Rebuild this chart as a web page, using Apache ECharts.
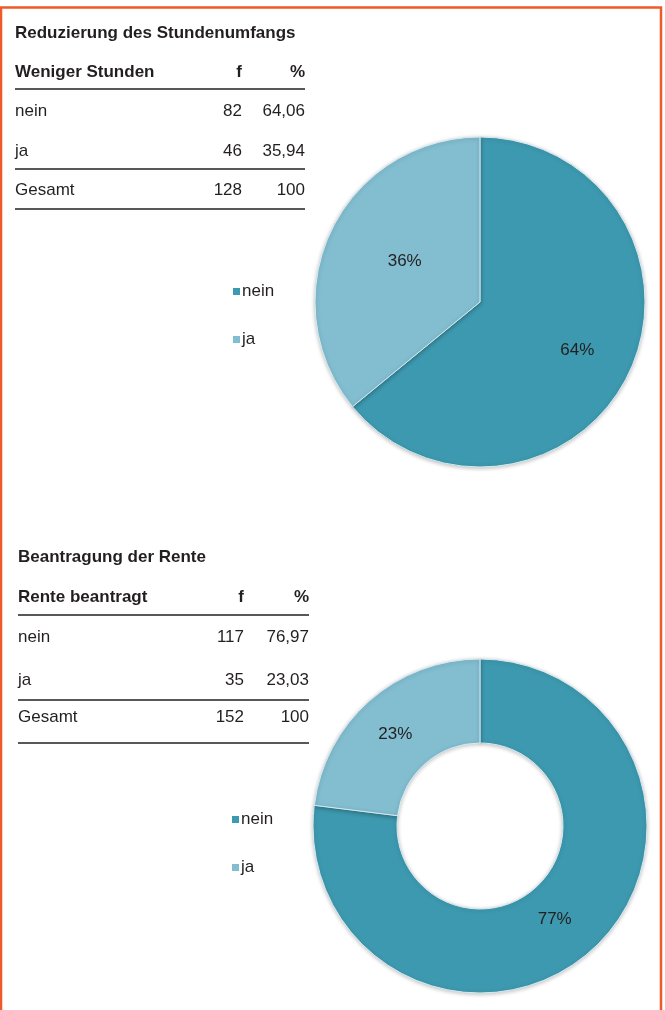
<!DOCTYPE html>
<html><head><meta charset="utf-8">
<script src="https://cdn.jsdelivr.net/npm/echarts@6/dist/echarts.min.js"></script>
<style>html,body{margin:0;padding:0;background:#fff}#c{width:665px;height:1010px}</style>
</head><body><div id="c"></div>
<script>
// ---- data ----
const categories = ['nein', 'ja'];
const title1 = 'Reduzierung des Stundenumfangs';
const header1 = ['Weniger Stunden', 'f', '%'];
const freq1 = [82, 46];
const pct1 = ['64,06', '35,94'];
const total1 = ['Gesamt', '128', '100'];

const title2 = 'Beantragung der Rente';
const header2 = ['Rente beantragt', 'f', '%'];
const freq2 = [117, 35];
const pct2 = ['76,97', '23,03'];
const total2 = ['Gesamt', '152', '100'];

const colors = ['#3d99af', '#82bdd0'];
const FONT = 'Liberation Sans, Arial, sans-serif';
const FS = 17;

function table(L, title, header, freq, pct, total) {
  const g = [];
  const txt = (x, y, s, bold, align) => g.push({
    type: 'text', x: x, y: y + 1,
    style: { text: String(s), fill: '#231f20', font: (bold ? 'bold ' : '') + FS + 'px ' + FONT,
      textAlign: align || 'left', textVerticalAlign: 'middle' }
  });
  const line = (y) => g.push({ type: 'line', shape: { x1: L.x0, y1: y, x2: L.x1, y2: y },
    style: { stroke: '#231f20', lineWidth: 1.5 } });
  txt(L.x0, L.title, title, true);
  txt(L.x0, L.head, header[0], true);
  txt(L.fx, L.head, header[1], true, 'right');
  txt(L.x1, L.head, header[2], true, 'right');
  line(L.l1);
  categories.forEach((c, i) => {
    txt(L.x0, L.rows[i], c);
    txt(L.fx, L.rows[i], freq[i], false, 'right');
    txt(L.x1, L.rows[i], pct[i], false, 'right');
  });
  line(L.l2);
  txt(L.x0, L.tot, total[0]);
  txt(L.fx, L.tot, total[1], false, 'right');
  txt(L.x1, L.tot, total[2], false, 'right');
  line(L.l3);
  return g;
}

const graphics = [].concat(
  table({ x0: 15, x1: 305, fx: 242, title: 32, head: 71, l1: 89, rows: [110, 150], l2: 169, tot: 189, l3: 209 },
    title1, header1, freq1, pct1, total1),
  table({ x0: 18, x1: 309, fx: 244, title: 556, head: 596, l1: 615, rows: [636, 679], l2: 700, tot: 716, l3: 743 },
    title2, header2, freq2, pct2, total2),
  [{ type: 'polyline', shape: { points: [[1, 1010], [1, 7.5], [661, 7.5], [661, 1010]] },
     style: { stroke: '#f05a28', lineWidth: 2.5, fill: null } }]
);

const pieData = (vals, offsets) => categories.map((c, i) => ({
  name: c, value: vals[i], label: { offset: offsets[i] }
}));
const commonSeries = {
  type: 'pie', startAngle: 90, clockwise: true, avoidLabelOverlap: false,
  label: { show: true, position: 'inside', color: '#231f20', fontSize: FS, fontFamily: FONT,
    formatter: p => Math.round(p.percent) + '%' },
  labelLine: { show: false },
  itemStyle: { borderColor: '#d4eaf1', borderWidth: 1, shadowBlur: 4, shadowColor: 'rgba(0,0,0,0.25)', shadowOffsetY: 1 },
  emphasis: { disabled: true }
};

const legendCommon = {
  orient: 'vertical', icon: 'rect', itemWidth: 7, itemHeight: 7, itemGap: 31,
  itemStyle: { borderWidth: 0, shadowBlur: 0 },
  textStyle: { fontSize: FS, fontFamily: FONT, color: '#231f20', padding: [0, 0, 0, -3] },
  data: categories, selectedMode: false
};

const chart = echarts.init(document.getElementById('c'), null, { renderer: 'canvas' });
chart.setOption({
  animation: false,
  color: colors,
  legend: [
    Object.assign({}, legendCommon, { left: 228, top: 278 }),
    Object.assign({}, legendCommon, { left: 227, top: 806 })
  ],
  series: [
    Object.assign({}, commonSeries, { name: 'p1', center: [480, 302], radius: [0, 165],
      data: pieData(freq1, [[20, 12], [2, -4]]) }),
    Object.assign({}, commonSeries, { name: 'p2', center: [480, 826], radius: [83, 167],
      data: pieData(freq2, [[-10, -3], [0, 4]]) })
  ],
  graphic: graphics
});
</script></body></html>
